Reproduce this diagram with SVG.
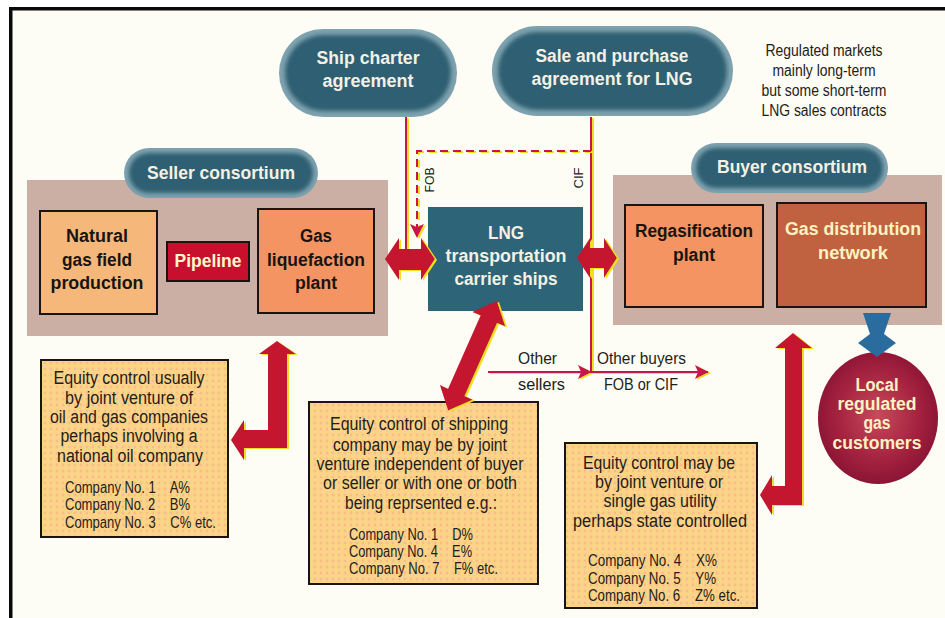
<svg xmlns="http://www.w3.org/2000/svg" width="945" height="618" viewBox="0 0 945 618">
  <defs>
    <style>
      .bold { font-family: "Liberation Sans", Arial, sans-serif; font-weight: bold; font-size: 18px; text-anchor: middle; }
      .light { fill: #f4f1e4; }
      .dark { fill: #1a1410; }
      .cream { fill: #fdf3c2; }
      .cond { font-family: "Liberation Sans Narrow", "Liberation Sans", Arial, sans-serif; fill: #241c16; }
      .mid { text-anchor: middle; }
      .body { font-size: 18px; }
      .small { font-size: 16px; white-space: pre; }
      .note { font-size: 16px; }
      .tan { fill: #cbaea4; }
      .box { stroke: #1b1410; stroke-width: 2; }
      .equity { fill: url(#dots); stroke: #1b1410; stroke-width: 2; }
      .pill-edge { fill: #7fa3b0; }
      .pill-core { fill: #2d5f72; filter: url(#soft); }
      .line { fill: none; stroke: #c8144a; stroke-width: 2; filter: url(#ys); }
      .dash { stroke-dasharray: 8 5; }
      .bigarrow { fill: #c4162e; filter: url(#ys); }
    </style>
    <!-- yellow drop edge used on every red arrow and line -->
    <filter id="ys" filterUnits="userSpaceOnUse" x="0" y="0" width="945" height="618">
      <feOffset in="SourceAlpha" dx="2" dy="1" result="off"/>
      <feFlood flood-color="#f0e020"/>
      <feComposite in2="off" operator="in" result="yel"/>
      <feMerge><feMergeNode in="yel"/><feMergeNode in="SourceGraphic"/></feMerge>
    </filter>
    <filter id="soft" x="-10%" y="-20%" width="120%" height="140%">
      <feGaussianBlur stdDeviation="2"/>
    </filter>
    <pattern id="dots" width="6" height="6" patternUnits="userSpaceOnUse">
      <rect width="6" height="6" fill="#fcd488"/>
      <circle cx="3" cy="3" r="1.4" fill="#f5a98a" opacity="0.55"/>
    </pattern>
    <radialGradient id="ball" cx="50%" cy="48%" r="55%">
      <stop offset="0" stop-color="#c84a5c"/>
      <stop offset="0.6" stop-color="#a52340"/>
      <stop offset="1" stop-color="#881232"/>
    </radialGradient>
    <marker id="ah" viewBox="0 0 14 14" markerWidth="14" markerHeight="14" refX="13" refY="7" orient="auto" markerUnits="userSpaceOnUse">
      <path d="M0,0 L14,7 L0,14 L3,7 Z" fill="#c8144a"/>
    </marker>
  </defs>

  <!-- page -->
  <rect width="945" height="618" fill="#ffffff"/>
  <rect x="11" y="9" width="934" height="609" fill="#fdfcf5"/>
  <rect x="9" y="7" width="936" height="3.5" fill="#0a0a0a"/>
  <rect x="9" y="7" width="3.5" height="611" fill="#0a0a0a"/>

  <!-- consortium backgrounds -->
  <rect id="seller-area" class="tan" x="27" y="180" width="361" height="156"/>
  <rect id="buyer-area" class="tan" x="613" y="175" width="329" height="150"/>

  <!-- contract pills -->
  <g id="ship-charter">
    <rect class="pill-edge" x="279" y="29" width="178" height="88" rx="44"/>
    <rect class="pill-core" x="285" y="35" width="166" height="76" rx="38"/>
    <text class="bold light" x="368" y="64" textLength="103" lengthAdjust="spacingAndGlyphs">Ship charter</text>
    <text class="bold light" x="368" y="87" textLength="91" lengthAdjust="spacingAndGlyphs">agreement</text>
  </g>
  <g id="sale-purchase">
    <rect class="pill-edge" x="492" y="26" width="241" height="90" rx="45"/>
    <rect class="pill-core" x="498" y="32" width="229" height="78" rx="39"/>
    <text class="bold light" x="612" y="62" textLength="153" lengthAdjust="spacingAndGlyphs">Sale and purchase</text>
    <text class="bold light" x="612" y="85" textLength="161" lengthAdjust="spacingAndGlyphs">agreement for LNG</text>
  </g>
  <g id="market-note">
    <text class="cond mid note" x="824" y="56" textLength="117" lengthAdjust="spacingAndGlyphs">Regulated markets</text>
    <text class="cond mid note" x="824" y="76" textLength="103" lengthAdjust="spacingAndGlyphs">mainly long-term</text>
    <text class="cond mid note" x="824" y="96" textLength="125" lengthAdjust="spacingAndGlyphs">but some short-term</text>
    <text class="cond mid note" x="824" y="116" textLength="125" lengthAdjust="spacingAndGlyphs">LNG sales contracts</text>
  </g>

  <!-- seller side -->
  <g id="seller-consortium">
    <rect class="pill-edge" x="124" y="148" width="194" height="50" rx="25"/>
    <rect class="pill-core" x="129" y="153" width="184" height="40" rx="20"/>
    <text class="bold light" x="221" y="179" textLength="148" lengthAdjust="spacingAndGlyphs">Seller consortium</text>
  </g>
  <g id="gas-field">
    <rect class="box" x="40" y="211" width="117" height="103" fill="#f6b87a"/>
    <text class="bold dark" x="97" y="242" textLength="62" lengthAdjust="spacingAndGlyphs">Natural</text>
    <text class="bold dark" x="97" y="266" textLength="70" lengthAdjust="spacingAndGlyphs">gas field</text>
    <text class="bold dark" x="97" y="289" textLength="93" lengthAdjust="spacingAndGlyphs">production</text>
  </g>
  <g id="pipeline">
    <rect class="box" x="167" y="242" width="82" height="39" fill="#c8102e"/>
    <text class="bold" fill="#fff8c8" x="208" y="267" textLength="67" lengthAdjust="spacingAndGlyphs">Pipeline</text>
  </g>
  <g id="liquefaction">
    <rect class="box" x="258" y="209" width="116" height="104" fill="#f59463"/>
    <text class="bold dark" x="316" y="242" textLength="32" lengthAdjust="spacingAndGlyphs">Gas</text>
    <text class="bold dark" x="316" y="266" textLength="98" lengthAdjust="spacingAndGlyphs">liquefaction</text>
    <text class="bold dark" x="316" y="289" textLength="42" lengthAdjust="spacingAndGlyphs">plant</text>
  </g>

  <!-- shipping -->
  <g id="carrier-ships">
    <rect x="428" y="207" width="155" height="104" fill="#2d6478"/>
    <text class="bold light" x="506" y="239" textLength="36" lengthAdjust="spacingAndGlyphs">LNG</text>
    <text class="bold light" x="506" y="262" textLength="121" lengthAdjust="spacingAndGlyphs">transportation</text>
    <text class="bold light" x="506" y="285" textLength="103" lengthAdjust="spacingAndGlyphs">carrier ships</text>
  </g>

  <!-- buyer side -->
  <g id="buyer-consortium">
    <rect class="pill-edge" x="691" y="143" width="197" height="50" rx="25"/>
    <rect class="pill-core" x="696" y="148" width="187" height="40" rx="20"/>
    <text class="bold light" x="792" y="173" textLength="150" lengthAdjust="spacingAndGlyphs">Buyer consortium</text>
  </g>
  <g id="regasification">
    <rect class="box" x="625" y="205" width="138" height="102" fill="#f59463"/>
    <text class="bold dark" x="694" y="237" textLength="118" lengthAdjust="spacingAndGlyphs">Regasification</text>
    <text class="bold dark" x="694" y="261" textLength="42" lengthAdjust="spacingAndGlyphs">plant</text>
  </g>
  <g id="distribution">
    <rect class="box" x="777" y="203" width="149" height="104" fill="#c0623f"/>
    <text class="bold cream" x="853" y="235" textLength="136" lengthAdjust="spacingAndGlyphs">Gas distribution</text>
    <text class="bold cream" x="853" y="259" textLength="70" lengthAdjust="spacingAndGlyphs">network</text>
  </g>
  <g id="customers">
    <ellipse cx="878" cy="418" rx="60" ry="66" fill="url(#ball)"/>
    <polygon points="863,313 891,313 884,334 896,343 877,357 858,343 870,334" fill="#2a6c9e"/>
    <text class="bold cream" x="877" y="391" textLength="43" lengthAdjust="spacingAndGlyphs">Local</text>
    <text class="bold cream" x="877" y="410" textLength="79" lengthAdjust="spacingAndGlyphs">regulated</text>
    <text class="bold cream" x="877" y="429" textLength="27" lengthAdjust="spacingAndGlyphs">gas</text>
    <text class="bold cream" x="877" y="449" textLength="89" lengthAdjust="spacingAndGlyphs">customers</text>
  </g>

  <!-- equity notes -->
  <g id="seller-equity">
    <rect class="equity" x="41" y="360" width="187" height="177"/>
    <text class="cond mid body" x="129" y="384" textLength="151" lengthAdjust="spacingAndGlyphs">Equity control usually</text>
    <text class="cond mid body" x="129" y="404" textLength="128" lengthAdjust="spacingAndGlyphs">by joint venture of</text>
    <text class="cond mid body" x="129" y="423" textLength="158" lengthAdjust="spacingAndGlyphs">oil and gas companies</text>
    <text class="cond mid body" x="129" y="442" textLength="137" lengthAdjust="spacingAndGlyphs">perhaps involving a</text>
    <text class="cond mid body" x="130" y="462" textLength="146" lengthAdjust="spacingAndGlyphs">national oil company</text>
    <text class="cond small" xml:space="preserve" x="65" y="493" textLength="125" lengthAdjust="spacingAndGlyphs">Company No. 1    A%</text>
    <text class="cond small" xml:space="preserve" x="65" y="510" textLength="125" lengthAdjust="spacingAndGlyphs">Company No. 2    B%</text>
    <text class="cond small" xml:space="preserve" x="65" y="528" textLength="151" lengthAdjust="spacingAndGlyphs">Company No. 3    C% etc.</text>
  </g>
  <g id="shipping-equity">
    <rect class="equity" x="309" y="402" width="229" height="182"/>
    <text class="cond mid body" x="419" y="430" textLength="178" lengthAdjust="spacingAndGlyphs">Equity control of shipping</text>
    <text class="cond mid body" x="420" y="451" textLength="174" lengthAdjust="spacingAndGlyphs">company may be by joint</text>
    <text class="cond mid body" x="420" y="470" textLength="207" lengthAdjust="spacingAndGlyphs">venture independent of buyer</text>
    <text class="cond mid body" x="420" y="489" textLength="194" lengthAdjust="spacingAndGlyphs">or seller or with one or both</text>
    <text class="cond mid body" x="421" y="509" textLength="152" lengthAdjust="spacingAndGlyphs">being reprsented e.g.:</text>
    <text class="cond small" xml:space="preserve" x="349" y="540" textLength="124" lengthAdjust="spacingAndGlyphs">Company No. 1    D%</text>
    <text class="cond small" xml:space="preserve" x="349" y="557" textLength="123" lengthAdjust="spacingAndGlyphs">Company No. 4    E%</text>
    <text class="cond small" xml:space="preserve" x="349" y="574" textLength="149" lengthAdjust="spacingAndGlyphs">Company No. 7    F% etc.</text>
  </g>
  <g id="buyer-equity">
    <rect class="equity" x="565" y="443" width="192" height="165"/>
    <text class="cond mid body" x="659" y="469" textLength="152" lengthAdjust="spacingAndGlyphs">Equity control may be</text>
    <text class="cond mid body" x="659" y="488" textLength="128" lengthAdjust="spacingAndGlyphs">by joint venture or</text>
    <text class="cond mid body" x="660" y="507" textLength="113" lengthAdjust="spacingAndGlyphs">single gas utility</text>
    <text class="cond mid body" x="660" y="527" textLength="174" lengthAdjust="spacingAndGlyphs">perhaps state controlled</text>
    <text class="cond small" xml:space="preserve" x="588" y="566" textLength="129" lengthAdjust="spacingAndGlyphs">Company No. 4    X%</text>
    <text class="cond small" xml:space="preserve" x="588" y="584" textLength="128" lengthAdjust="spacingAndGlyphs">Company No. 5    Y%</text>
    <text class="cond small" xml:space="preserve" x="588" y="601" textLength="152" lengthAdjust="spacingAndGlyphs">Company No. 6    Z% etc.</text>
  </g>

  <!-- connectors, drawn over the boxes they touch -->
  <g id="connectors">
    <line class="line" x1="406" y1="117" x2="406" y2="255"/>
    <line class="line" x1="591" y1="117" x2="591" y2="372"/>
    <polyline class="line dash" points="591,151 417,151 417,237" marker-end="url(#ah)"/>
    <line class="line" x1="488" y1="372" x2="591" y2="372" marker-end="url(#ah)"/>
    <line class="line" x1="591" y1="372" x2="708" y2="372" marker-end="url(#ah)"/>

    <!-- double arrows either side of the ships -->
    <polygon class="bigarrow" points="385,259 399,238 399,249 421,249 421,238 435,259 421,280 421,270 399,270 399,280"/>
    <polygon class="bigarrow" points="577,258 590,238 590,248 604,248 604,238 617,258 604,278 604,268 590,268 590,278"/>
    <!-- shipping equity -->
    <polygon class="bigarrow" points="497,301 472.4,311.9 480.6,315.6 448.1,388.7 439.9,385 448.2,410.6 472.8,399.7 464.6,396 497.1,322.9 505.3,326.6"/>
    <!-- seller equity -->
    <polygon class="bigarrow" points="277,341 296,354 287,354 287,448 244,448 244,460 231,440 244,420 244,430 268,430 268,354 259,354"/>
    <!-- buyer equity -->
    <polygon class="bigarrow" points="793,333 812,348 802,348 802,505 772,505 772,515 760,495 772,475 772,486 785,486 785,348 775,348"/>

    <text class="cond" font-size="13" text-anchor="middle" transform="translate(434,180) rotate(-90)" textLength="25" lengthAdjust="spacingAndGlyphs">FOB</text>
    <text class="cond" font-size="13" text-anchor="middle" transform="translate(583,178) rotate(-90)" textLength="21" lengthAdjust="spacingAndGlyphs">CIF</text>
    <text class="cond" font-size="17" x="518" y="364" textLength="39" lengthAdjust="spacingAndGlyphs">Other</text>
    <text class="cond" font-size="17" x="518" y="390" textLength="47" lengthAdjust="spacingAndGlyphs">sellers</text>
    <text class="cond" font-size="17" x="597" y="364" textLength="89" lengthAdjust="spacingAndGlyphs">Other buyers</text>
    <text class="cond" font-size="17" x="604" y="390" textLength="74" lengthAdjust="spacingAndGlyphs">FOB or CIF</text>
  </g>
</svg>
